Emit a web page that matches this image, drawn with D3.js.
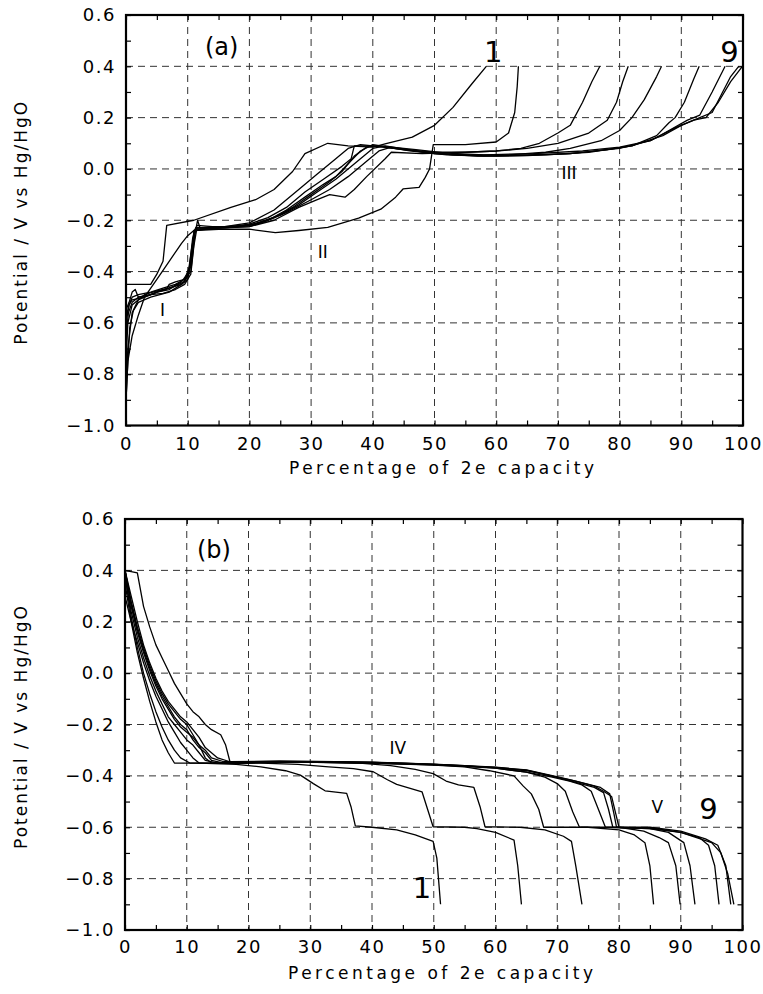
<!DOCTYPE html>
<html>
<head>
<meta charset="utf-8">
<script src="https://cdn.jsdelivr.net/npm/d3@7"></script>
<style>
  body { margin: 0; background: #fff; }
  text { font-family: "DejaVu Sans", sans-serif; fill: #000; }
</style>
</head>
<body>
<div class="chart"></div>
<script>
// ---- data: percentage of 2e capacity vs potential (V vs Hg/HgO) ----
var xTickValues = d3.range(0, 101, 5);
var yTickValues = d3.range(-10, 7).map(function(i) { return i / 10; });

// panel (a), charge curves, cycles 1..9
var charge1 = [[0,-0.45],[4,-0.45],[5,-0.41],[6,-0.36],[6.6,-0.22],[11,-0.2],[17,-0.15],[21,-0.12],[24,-0.08],[27,-0.01],[29,0.06],[32.7,0.1],[36,0.09],[40,0.085],[42.3,0.1],[46.4,0.124],[50,0.17],[53,0.24],[56,0.33],[58.4,0.4]];
var charge2 = [[0,-0.9],[0.3,-0.75],[1,-0.65],[2,-0.57],[3,-0.5],[5,-0.43],[7,-0.36],[9,-0.29],[10,-0.26],[11,-0.24],[15,-0.235],[20,-0.235],[24.2,-0.248],[28,-0.24],[32.7,-0.228],[37.7,-0.192],[41.3,-0.157],[43.7,-0.11],[44.9,-0.078],[47.5,-0.072],[48.5,-0.033],[49.2,0.0],[49.8,0.095],[55,0.095],[60,0.105],[62,0.14],[63,0.22],[63.4,0.32],[63.6,0.4]];
var charge3 = [[0,-0.85],[0.3,-0.7],[1,-0.56],[2,-0.52],[4,-0.5],[7,-0.48],[9,-0.45],[10,-0.42],[10.7,-0.3],[11.3,-0.23],[15,-0.23],[20,-0.225],[24,-0.2],[28,-0.15],[31,-0.12],[33,-0.1],[35.5,-0.11],[37,-0.08],[39,-0.03],[42,0.04],[43,0.065],[48,0.06],[55,0.065],[60,0.07],[64,0.08],[67,0.1],[70,0.14],[72,0.17],[74,0.26],[75.5,0.34],[76.8,0.4]];
var charge4 = [[0,-0.6],[0.5,-0.53],[1,-0.51],[3,-0.5],[5,-0.48],[7,-0.47],[8,-0.455],[9.5,-0.44],[10.5,-0.38],[11,-0.24],[15,-0.23],[20,-0.215],[23,-0.19],[26,-0.15],[29,-0.09],[32,-0.04],[35,0.01],[36.5,0.04],[37,0.09],[40,0.09],[45,0.075],[50,0.065],[55,0.065],[60,0.07],[65,0.08],[70,0.1],[75,0.14],[78,0.19],[79.5,0.26],[80.5,0.34],[81.4,0.4]];
var charge5 = [[0,-0.9],[0.2,-0.8],[0.6,-0.62],[1.2,-0.55],[2,-0.51],[3,-0.5],[5,-0.48],[6.5,-0.47],[7,-0.45],[8,-0.44],[9.5,-0.43],[10.5,-0.4],[11.2,-0.25],[11.6,-0.2],[12,-0.23],[16,-0.225],[20,-0.21],[24,-0.16],[28,-0.08],[31,-0.02],[34,0.04],[36,0.08],[38,0.095],[42,0.085],[50,0.06],[56,0.055],[62,0.055],[68,0.065],[72,0.08],[77,0.11],[80,0.15],[82,0.2],[84,0.27],[86,0.36],[86.8,0.4]];
var charge6 = [[0,-0.65],[0.4,-0.56],[1,-0.52],[2,-0.5],[4,-0.49],[6,-0.485],[8,-0.47],[9.5,-0.45],[10.5,-0.41],[11,-0.3],[11.5,-0.23],[16,-0.23],[20,-0.225],[24,-0.19],[27,-0.15],[30,-0.1],[33,-0.05],[35,-0.01],[37,0.05],[39,0.085],[41,0.09],[46,0.07],[52,0.055],[58,0.05],[65,0.055],[72,0.06],[78,0.075],[82,0.09],[86,0.13],[88,0.18],[89,0.2],[90.5,0.26],[92,0.35],[92.9,0.4]];
var charge7 = [[0,-0.55],[0.5,-0.52],[1,-0.48],[1.5,-0.47],[2,-0.5],[4,-0.49],[6,-0.47],[7.5,-0.46],[9,-0.44],[10.2,-0.4],[10.8,-0.27],[11.3,-0.23],[16,-0.225],[20,-0.22],[23,-0.2],[26,-0.16],[29,-0.11],[32,-0.06],[34,-0.03],[36,0.02],[38,0.07],[40,0.095],[44,0.08],[50,0.06],[57,0.05],[65,0.052],[72,0.06],[80,0.08],[85,0.11],[88,0.15],[91,0.19],[93,0.21],[95,0.3],[97.1,0.4]];
var charge8 = [[0,-0.75],[0.3,-0.6],[1,-0.53],[2,-0.51],[3,-0.49],[5,-0.475],[7,-0.465],[9,-0.45],[10,-0.43],[10.8,-0.32],[11.2,-0.235],[16,-0.23],[20,-0.22],[25,-0.18],[28,-0.14],[31,-0.09],[34,-0.04],[36,0.0],[38,0.04],[40,0.08],[42,0.09],[47,0.07],[53,0.055],[60,0.05],[68,0.055],[75,0.065],[82,0.09],[87,0.13],[90,0.17],[93,0.2],[95,0.22],[96.5,0.29],[98,0.36],[99.3,0.4]];
var charge9 = [[0,-0.58],[0.5,-0.53],[1,-0.5],[2,-0.49],[4,-0.48],[6,-0.465],[8,-0.45],[9.5,-0.43],[10.5,-0.37],[11,-0.26],[11.5,-0.22],[14,-0.225],[18,-0.225],[22,-0.21],[26,-0.17],[30,-0.12],[33,-0.08],[36,-0.03],[39,0.03],[41,0.07],[43,0.085],[47,0.075],[52,0.062],[58,0.055],[66,0.06],[74,0.07],[80,0.085],[85,0.11],[89,0.16],[92,0.19],[94,0.2],[96,0.26],[98,0.34],[99.9,0.4]];

// panel (b), discharge curves, cycles 1..9
var discharge1 = [[0,0.35],[1,0.2],[2,0.08],[3,-0.02],[4,-0.11],[5,-0.19],[6,-0.26],[7,-0.31],[8,-0.35],[12,-0.35],[18,-0.355],[22,-0.365],[26,-0.38],[28.4,-0.397],[30.5,-0.43],[32.4,-0.458],[35.9,-0.468],[36.6,-0.52],[37.3,-0.595],[40,-0.6],[44,-0.61],[47,-0.63],[49.9,-0.655],[50.5,-0.72],[51.1,-0.9]];
var discharge2 = [[0,0.38],[1,0.22],[2,0.1],[3,0.0],[4,-0.08],[5,-0.15],[6,-0.21],[7,-0.26],[8,-0.3],[9,-0.33],[10.5,-0.35],[15,-0.35],[22,-0.35],[28,-0.355],[33,-0.365],[37,-0.372],[40.2,-0.384],[42.5,-0.415],[44,-0.433],[48.1,-0.462],[49,-0.53],[49.9,-0.598],[55,-0.6],[57,-0.605],[60,-0.62],[63,-0.65],[63.6,-0.75],[64.2,-0.9]];
var discharge3 = [[0,0.3],[1,0.2],[2,0.12],[3,0.04],[4,-0.03],[5,-0.09],[6,-0.14],[7,-0.19],[8,-0.23],[9,-0.27],[10,-0.3],[11,-0.33],[12,-0.35],[18,-0.35],[28,-0.345],[38,-0.35],[43,-0.36],[47,-0.375],[49.9,-0.391],[52,-0.42],[54,-0.435],[56.5,-0.445],[57.5,-0.52],[58.3,-0.598],[64,-0.6],[68,-0.61],[71,-0.635],[72.3,-0.655],[73,-0.75],[74,-0.9]];
var discharge4 = [[0,0.4],[1,0.26],[2,0.16],[3,0.08],[4,0.01],[5,-0.05],[6,-0.1],[7,-0.14],[8,-0.18],[9,-0.21],[10,-0.23],[11,-0.25],[12,-0.28],[13,-0.33],[14,-0.35],[20,-0.35],[30,-0.345],[40,-0.35],[50,-0.358],[55,-0.365],[59,-0.38],[63,-0.4],[64.5,-0.44],[65.8,-0.47],[67,-0.53],[67.8,-0.6],[75,-0.6],[80,-0.61],[82.5,-0.63],[84.2,-0.66],[85,-0.75],[85.6,-0.9]];
var discharge5 = [[0,0.38],[1,0.24],[2,0.14],[3,0.06],[4,-0.01],[5,-0.07],[6,-0.12],[7,-0.17],[8,-0.2],[9,-0.23],[10,-0.26],[11,-0.28],[12,-0.31],[13,-0.34],[15,-0.35],[25,-0.345],[35,-0.345],[45,-0.35],[55,-0.36],[60,-0.37],[65,-0.385],[68,-0.405],[70,-0.43],[71.3,-0.46],[72.5,-0.54],[73.6,-0.6],[80,-0.6],[84,-0.615],[86.5,-0.64],[88,-0.66],[89.2,-0.75],[89.9,-0.9]];
var discharge6 = [[0,0.4],[1,0.27],[2,0.17],[3,0.09],[4,0.02],[5,-0.04],[6,-0.09],[7,-0.13],[8,-0.17],[9,-0.2],[10,-0.22],[11,-0.26],[12,-0.29],[13,-0.31],[14,-0.34],[16,-0.35],[25,-0.345],[40,-0.35],[50,-0.357],[60,-0.37],[65,-0.385],[69,-0.404],[72,-0.42],[74,-0.435],[75.5,-0.46],[76.5,-0.52],[77.8,-0.6],[85,-0.605],[88,-0.62],[90.5,-0.66],[91.5,-0.75],[92.3,-0.9]];
var discharge7 = [[0,0.4],[1,0.28],[2,0.18],[3,0.1],[4,0.03],[5,-0.03],[6,-0.08],[7,-0.12],[8,-0.15],[9,-0.18],[10,-0.2],[11,-0.24],[12,-0.28],[13,-0.3],[14,-0.33],[16,-0.345],[25,-0.345],[40,-0.35],[50,-0.356],[60,-0.368],[65,-0.38],[69,-0.4],[73,-0.425],[76,-0.445],[77.5,-0.465],[78.3,-0.53],[79,-0.6],[85,-0.605],[90,-0.62],[93,-0.64],[94.5,-0.67],[95.5,-0.75],[96.2,-0.9]];
var discharge8 = [[0,0.4],[1,0.3],[2,0.2],[3,0.11],[4,0.04],[5,-0.02],[6,-0.07],[7,-0.11],[8,-0.14],[9,-0.17],[10,-0.19],[11,-0.22],[12,-0.25],[13,-0.29],[15,-0.33],[17,-0.345],[25,-0.345],[40,-0.348],[50,-0.355],[60,-0.367],[65,-0.378],[69,-0.4],[73,-0.42],[77,-0.445],[78.5,-0.47],[79.2,-0.55],[79.6,-0.6],[85,-0.6],[90,-0.615],[94,-0.645],[96,-0.67],[97.3,-0.75],[98.1,-0.9]];
var discharge9 = [[0,0.4],[2,0.39],[3,0.26],[4,0.18],[5,0.11],[6,0.06],[7,0.01],[8,-0.04],[9,-0.08],[10,-0.12],[11,-0.15],[12,-0.17],[13,-0.2],[14,-0.22],[15.5,-0.24],[16.3,-0.28],[17,-0.345],[25,-0.342],[40,-0.347],[50,-0.354],[60,-0.366],[65,-0.377],[69,-0.398],[72,-0.415],[76,-0.44],[77.5,-0.46],[78.8,-0.48],[79.5,-0.55],[80,-0.6],[86,-0.605],[90,-0.62],[95,-0.66],[96.5,-0.7],[97.6,-0.78],[98.6,-0.9]];

// annotations: [text, x value, y value (baseline), kind]
var notesA = [["(a)",15.5,0.443,"tag"],["1",59.5,0.418,"num"],["9",97.8,0.418,"num"],["I",5.9,-0.575,"roman"],["II",31.9,-0.346,"roman"],["III",71.8,-0.039,"roman"]];
var notesB = [["(b)",14.4,0.447,"tag"],["1",48.1,-0.875,"num"],["9",94.5,-0.569,"num"],["IV",44.2,-0.313,"roman"],["V",86.2,-0.543,"roman"]];

var chargeCurves = [charge1, charge2, charge3, charge4, charge5, charge6, charge7, charge8, charge9];
var dischargeCurves = [discharge1, discharge2, discharge3, discharge4, discharge5, discharge6, discharge7, discharge8, discharge9];

var svgWidth = 763;
var svgHeight = 994;

var svg = d3.select(".chart")
  .append("svg")
  .attr("width", svgWidth)
  .attr("height", svgHeight);

svg.append("rect")
  .attr("width", svgWidth)
  .attr("height", svgHeight)
  .attr("fill", "#fff");

var fmt = d3.format(".1f");
var noteSize = { tag: 24, num: 29, roman: 17 };

function drawPanel(box, curves, notes) {
  var xScale = d3.scaleLinear().domain([0, 100]).range([box.left, box.right]);
  var yScale = d3.scaleLinear().domain([-1, 0.6]).range([box.bottom, box.top]);

  var g = svg.append("g");

  // dashed grid at major ticks
  g.selectAll(".vgrid")
    .data(d3.range(10, 100, 10))
    .enter()
    .append("line")
    .attr("x1", d => xScale(d))
    .attr("x2", d => xScale(d))
    .attr("y1", box.top)
    .attr("y2", box.bottom)
    .attr("stroke", "#333")
    .attr("stroke-width", 1)
    .attr("stroke-dasharray", "7,5");

  g.selectAll(".hgrid")
    .data(d3.range(-4, 3).map(i => i / 5))
    .enter()
    .append("line")
    .attr("x1", box.left)
    .attr("x2", box.right)
    .attr("y1", d => yScale(d))
    .attr("y2", d => yScale(d))
    .attr("stroke", "#333")
    .attr("stroke-width", 1)
    .attr("stroke-dasharray", "7,5");

  // axes, ticks pointing inward on all four sides
  var bottomAxis = d3.axisBottom(xScale)
    .tickValues(xTickValues)
    .tickSizeInner(-5).tickSizeOuter(0)
    .tickPadding(box.xPad)
    .tickFormat(d => d % 10 === 0 ? d : "");
  var leftAxis = d3.axisLeft(yScale)
    .tickValues(yTickValues)
    .tickSizeInner(-5).tickSizeOuter(0)
    .tickPadding(10)
    .tickFormat(d => Math.round(d * 10) % 2 === 0 ? fmt(d) : "");
  var topAxis = d3.axisTop(xScale).tickValues(xTickValues).tickSizeInner(-5).tickSizeOuter(0).tickFormat("");
  var rightAxis = d3.axisRight(yScale).tickValues(yTickValues).tickSizeInner(-5).tickSizeOuter(0).tickFormat("");

  var axes = [
    [bottomAxis, `translate(0, ${box.bottom})`],
    [leftAxis, `translate(${box.left}, 0)`],
    [topAxis, `translate(0, ${box.top})`],
    [rightAxis, `translate(${box.right}, 0)`]
  ];
  axes.forEach(function(a) {
    var ag = g.append("g").attr("transform", a[1]).call(a[0]);
    ag.select(".domain").remove();
    ag.selectAll("line").attr("stroke", "#000").attr("stroke-width", 1.2);
    ag.selectAll("text")
      .attr("font-family", "DejaVu Sans, sans-serif")
      .attr("font-size", 18)
      .style("letter-spacing", "1.5px")
      .attr("fill", "#000");
  });

  // curves
  var line = d3.line()
    .x(d => xScale(d[0]))
    .y(d => yScale(d[1]));

  g.selectAll(".curve")
    .data(curves)
    .enter()
    .append("path")
    .attr("d", line)
    .attr("fill", "none")
    .attr("stroke", "#000")
    .attr("stroke-width", 1.3)
    .attr("stroke-linejoin", "round");

  // frame
  g.append("rect")
    .attr("x", box.left)
    .attr("y", box.top)
    .attr("width", box.right - box.left)
    .attr("height", box.bottom - box.top)
    .attr("fill", "none")
    .attr("stroke", "#000")
    .attr("stroke-width", 2.2);

  // annotations
  g.selectAll(".note")
    .data(notes)
    .enter()
    .append("text")
    .attr("x", d => xScale(d[1]))
    .attr("y", d => yScale(d[2]))
    .attr("text-anchor", "middle")
    .attr("font-size", d => noteSize[d[3]])
    .attr("fill", "#000")
    .text(d => d[0]);

  // axis titles
  g.append("text")
    .attr("x", box.titleX)
    .attr("y", box.bottom + 48.5)
    .attr("font-size", 17)
    .attr("textLength", 305)
    .attr("lengthAdjust", "spacing")
    .text("Percentage of 2e capacity");

  g.append("text")
    .attr("transform", `translate(27, ${(box.top + box.bottom) / 2 + 3}) rotate(-90)`)
    .attr("text-anchor", "middle")
    .attr("font-size", 17)
    .attr("textLength", 243)
    .attr("lengthAdjust", "spacing")
    .text("Potential / V vs Hg/HgO");
}

drawPanel({ left: 126, right: 743, top: 15, bottom: 425.5, xPad: 12, titleX: 289 }, chargeCurves, notesA);
drawPanel({ left: 125, right: 742.5, top: 519, bottom: 930, xPad: 10, titleX: 288 }, dischargeCurves, notesB);
</script>
</body>
</html>
